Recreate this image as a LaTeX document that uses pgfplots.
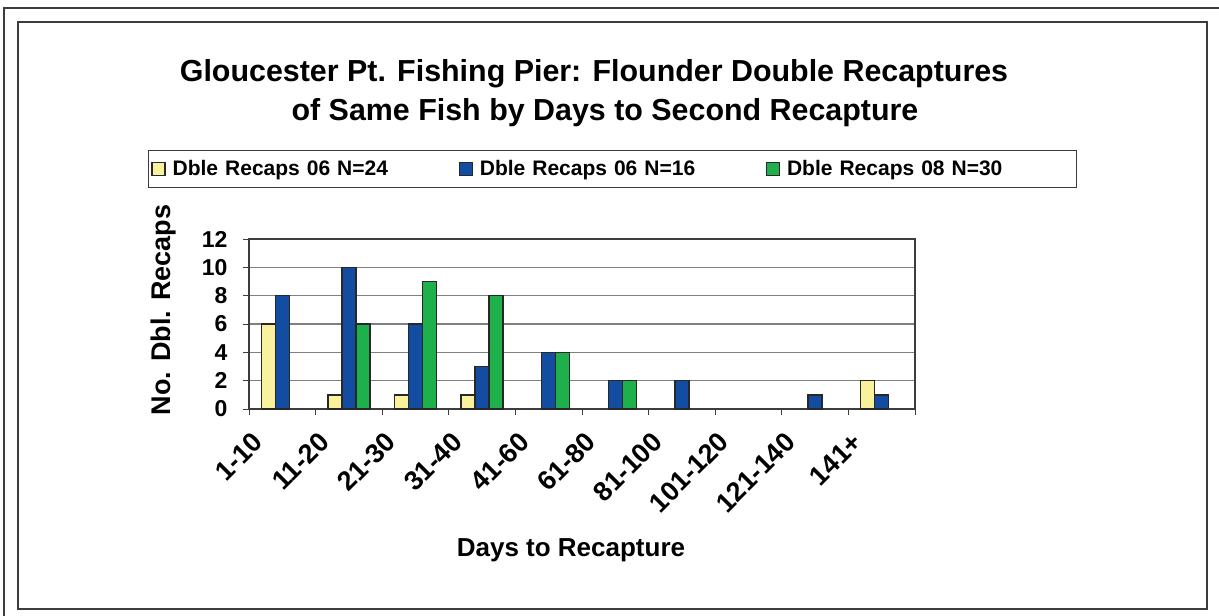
\documentclass[border=0pt]{standalone}
\usepackage{fontspec}
\setmainfont{Liberation Sans}
\usepackage{pgfplots}
\pgfplotsset{compat=1.18}
\definecolor{recA}{RGB}{250,241,157}
\definecolor{recB}{RGB}{18,77,162}
\definecolor{recC}{RGB}{30,176,75}
\definecolor{edge}{RGB}{40,40,40}
\definecolor{frame}{RGB}{60,60,60}

\begin{document}
\begin{tikzpicture}
\path[use as bounding box] (0pt,0pt) rectangle (1219pt,-616pt);
\clip (0pt,0pt) rectangle (1219pt,-616pt);
% frames
\draw[frame,line width=2.5pt] (4pt,-8pt) rectangle (1240pt,-640pt);
\draw[frame,line width=1.6pt] (18pt,-22pt) rectangle (1207pt,-609pt);
% title and axis labels
\node[anchor=base,font=\fontsize{30.4}{39}\selectfont\bfseries] at (594pt,-81pt)
  {Gloucester Pt. Fishing Pier: Flounder Double Recaptures};
\node[anchor=base,font=\fontsize{30.4}{39}\selectfont\bfseries] at (605pt,-120pt)
  {of Same Fish by Days to Second Recapture};
\node[rotate=90,font=\fontsize{27}{27}\selectfont\bfseries] at (164pt,-310pt) {No. Dbl. Recaps};
\node[font=\fontsize{26}{26}\selectfont\bfseries] at (571pt,-550pt) {Days to Recapture};

\begin{axis}[
  scale only axis,width=666pt,height=170pt,
  at={(249pt,-409pt)},anchor=south west,
  ybar=0pt,bar width=14pt,
  xmin=-0.5,xmax=9.5,ymin=0,ymax=12,
  ytick={0,2,...,12},
  xtick={0,...,9},
  xticklabels={1-10,11-20,21-30,31-40,41-60,61-80,81-100,101-120,121-140,141+},
  minor xtick={-0.5,0.5,...,9.5},
  major x tick style={draw=none},
  tick align=outside,tick pos=left,
  major tick length=6pt,minor tick length=6pt,
  tick style={frame,line width=1pt},
  ymajorgrids,grid style={gray,line width=1.2pt},
  axis line style={frame,line width=1.2pt},
  /pgf/number format/assume math mode=true,
  yticklabel style={font=\fontsize{23}{23}\selectfont\bfseries,xshift=-12pt},
  xticklabel style={font=\fontsize{27}{27}\selectfont\bfseries,
    xshift=-22pt,yshift=-20pt,rotate=45,anchor=east},
  legend columns=3,
  legend cell align=left,
  legend style={at={(-0.1517,1.5235)},anchor=north west,
    draw=frame,line width=1pt,inner sep=3pt,
    font=\fontsize{21}{21}\selectfont\bfseries,
    nodes={text width=279pt,inner sep=7pt}},
]
\addplot[fill=recA,draw=edge,line width=1.5pt,
  legend image code/.code={\draw[fill=recA,draw=edge,line width=1.2pt] (0pt,-6.5pt) rectangle (13pt,6.5pt);}]
  coordinates {(0,6) (1,1) (2,1) (3,1) (9,2)};
\addplot[fill=recB,draw=edge,line width=1.5pt,
  legend image code/.code={\draw[fill=recB,draw=edge,line width=1.2pt] (0pt,-6.5pt) rectangle (13pt,6.5pt);}]
  coordinates {(0,8) (1,10) (2,6) (3,3) (4,4) (5,2) (6,2) (8,1) (9,1)};
\addplot[fill=recC,draw=edge,line width=1.5pt,
  legend image code/.code={\draw[fill=recC,draw=edge,line width=1.2pt] (0pt,-6.5pt) rectangle (13pt,6.5pt);}]
  coordinates {(1,6) (2,9) (3,8) (4,4) (5,2)};
\legend{Dble Recaps 06 N=24,Dble Recaps 06 N=16,Dble Recaps 08 N=30}
\end{axis}
\end{tikzpicture}
\end{document}
